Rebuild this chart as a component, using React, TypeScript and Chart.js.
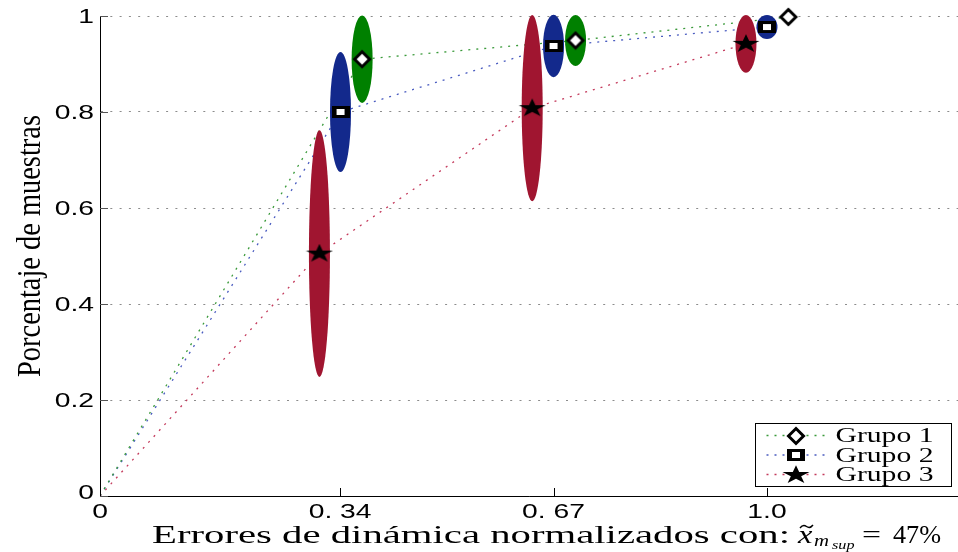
import React, { useEffect, useRef } from "react";
import { Chart, registerables } from "chart.js";

Chart.register(...registerables);

// Axis ticks
const xTickValues = [0, 0.36, 0.68, 1.0];
const xTickLabels = ["0", "0. 34", "0. 67", "1.0"];
const yTickValues = [0, 0.2, 0.4, 0.6, 0.8, 1];
const yTickLabels = ["0", "0.2", "0.4", "0.6", "0.8", "1"];
const xAxisMax = 1.2864;

const groupNames = ["Grupo 1", "Grupo 2", "Grupo 3"];

// Each series starts at the origin; spread is the half-height of the ellipse.
const grupo1X = [0, 0.393, 0.713, 1.032];
const grupo1Y = [0, 0.91, 0.949, 0.998];
const grupo1Spread = [0, 0.091, 0.053, 0];

const grupo2X = [0, 0.3606, 0.68, 1.0];
const grupo2Y = [0, 0.8, 0.9375, 0.977];
const grupo2Spread = [0, 0.125, 0.065, 0.025];

const grupo3X = [0, 0.329, 0.648, 0.9685];
const grupo3Y = [0, 0.505, 0.808, 0.942];
const grupo3Spread = [0, 0.257, 0.194, 0.06];

const lineColors = ["#3a9a3a", "#4a5cc0", "#c43a5c"];
const fillColors = ["#008000", "#13298c", "#a01530"];

const yTitle = "Porcentaje de muestras";
const xTitle = "Errores de dinámica normalizados con:";

const SANS = "'Liberation Sans', Arial, sans-serif";
const SERIF = "'Liberation Serif', 'Times New Roman', serif";

type Kind = "diamond" | "square" | "star";

function makeMarker(kind: Kind): HTMLCanvasElement {
  const c = document.createElement("canvas");
  const ctx = c.getContext("2d")!;
  if (kind === "diamond") {
    c.width = 22;
    c.height = 22;
    ctx.beginPath();
    ctx.moveTo(11, 3.5);
    ctx.lineTo(18.5, 11);
    ctx.lineTo(11, 18.5);
    ctx.lineTo(3.5, 11);
    ctx.closePath();
    ctx.fillStyle = "#fff";
    ctx.fill();
    ctx.lineWidth = 3;
    ctx.lineJoin = "miter";
    ctx.strokeStyle = "#000";
    ctx.stroke();
  } else if (kind === "square") {
    c.width = 18;
    c.height = 12;
    ctx.fillStyle = "#000";
    ctx.fillRect(0, 0, 18, 12);
    ctx.fillStyle = "#fff";
    ctx.fillRect(5, 3, 8, 6);
  } else {
    c.width = 28;
    c.height = 20;
    ctx.translate(14, 10);
    ctx.scale(1.45, 1);
    const R = 9.8;
    ctx.beginPath();
    for (let i = 0; i < 10; i++) {
      const a = -Math.PI / 2 + (i * Math.PI) / 5;
      const r = i % 2 ? R * 0.382 : R;
      const px = Math.cos(a) * r;
      const py = Math.sin(a) * r;
      if (i === 0) ctx.moveTo(px, py);
      else ctx.lineTo(px, py);
    }
    ctx.closePath();
    ctx.fillStyle = "#000";
    ctx.fill();
  }
  return c;
}

function drawStretched(
  ctx: CanvasRenderingContext2D,
  text: string,
  x: number,
  y: number,
  font: string,
  sx: number,
  align: "left" | "center" | "right"
) {
  ctx.save();
  ctx.font = font;
  ctx.textAlign = "left";
  ctx.textBaseline = "alphabetic";
  const w = ctx.measureText(text).width * sx;
  const x0 = align === "left" ? x : align === "center" ? x - w / 2 : x - w;
  ctx.translate(x0, y);
  ctx.scale(sx, 1);
  ctx.fillText(text, 0, 0);
  ctx.restore();
}

function fitScale(ctx: CanvasRenderingContext2D, text: string, font: string, width: number) {
  ctx.save();
  ctx.font = font;
  const w = ctx.measureText(text).width;
  ctx.restore();
  return width / w;
}

export default function App() {
  const canvasRef = useRef<HTMLCanvasElement | null>(null);

  useEffect(() => {
    const canvas = canvasRef.current;
    if (!canvas) return;

    const markers = [makeMarker("diamond"), makeMarker("square"), makeMarker("star")];
    const xs = [grupo1X, grupo2X, grupo3X];
    const ys = [grupo1Y, grupo2Y, grupo3Y];
    const spreads = [grupo1Spread, grupo2Spread, grupo3Spread];

    const lineDatasets = groupNames.map((name, i) => ({
      type: "scatter" as const,
      label: name,
      data: xs[i].map((x, j) => ({ x, y: ys[i][j] })),
      showLine: true,
      borderColor: lineColors[i],
      borderWidth: 1.3,
      borderDash: [2, 6],
      pointRadius: 0,
      tension: 0,
      fill: false,
      order: 2,
    }));

    const markerDatasets = groupNames.map((name, i) => ({
      type: "scatter" as const,
      label: name + " (media)",
      data: xs[i].slice(1).map((x, j) => ({ x, y: ys[i][j + 1] })),
      showLine: false,
      pointStyle: markers[i],
      pointRadius: 6,
      clip: false as const,
      order: 1,
    }));

    let ellipsesDrawn = false;

    const overlay = {
      id: "overlay",
      beforeDatasetsDraw() {
        ellipsesDrawn = false;
      },
      beforeDatasetDraw(chart: any, args: any) {
        if (ellipsesDrawn || args.index < groupNames.length) return;
        ellipsesDrawn = true;
        const { ctx } = chart;
        const xs2 = chart.scales.x;
        const ys2 = chart.scales.y;
        ctx.save();
        for (let i = groupNames.length - 1; i >= 0; i--) {
          for (let j = 1; j < xs[i].length; j++) {
            const s = spreads[i][j];
            if (s <= 0) continue;
            const cx = xs2.getPixelForValue(xs[i][j]);
            const cy = ys2.getPixelForValue(ys[i][j]);
            const ry = ys2.getPixelForValue(ys[i][j] - s) - cy;
            ctx.beginPath();
            ctx.ellipse(cx, cy, 10.5, ry, 0, 0, Math.PI * 2);
            ctx.fillStyle = fillColors[i];
            ctx.fill();
          }
        }
        ctx.restore();
      },
      afterDraw(chart: any) {
        const { ctx, chartArea } = chart;
        const xScale = chart.scales.x;
        const yScale = chart.scales.y;
        ctx.save();
        ctx.fillStyle = "#000";

        // inward tick marks
        ctx.lineWidth = 1;
        ctx.strokeStyle = "#555";
        yTickValues.forEach((v) => {
          const py = Math.round(yScale.getPixelForValue(v)) + 0.5;
          ctx.beginPath();
          ctx.moveTo(chartArea.left, py);
          ctx.lineTo(chartArea.left + 8, py);
          ctx.stroke();
        });
        ctx.strokeStyle = "#000";
        xTickValues.forEach((v) => {
          const px = Math.round(xScale.getPixelForValue(v)) + 0.5;
          ctx.beginPath();
          ctx.moveTo(px, chartArea.bottom);
          ctx.lineTo(px, chartArea.bottom - 8);
          ctx.stroke();
        });

        // tick labels
        const tickFont = "19.5px " + SANS;
        yTickValues.forEach((v, i) => {
          const py = yScale.getPixelForValue(v);
          drawStretched(ctx, yTickLabels[i], chartArea.left - 6, Math.min(py + 7, chartArea.bottom + 3), tickFont, 1.45, "right");
        });
        xTickValues.forEach((v, i) => {
          const px = xScale.getPixelForValue(v);
          drawStretched(ctx, xTickLabels[i], px, chartArea.bottom + 22, tickFont, 1.45, "center");
        });

        // y title (rotated)
        {
          ctx.font = "100px " + SERIF;
          const w100 = ctx.measureText(yTitle).width;
          const fs = (262 / w100) * 100;
          const sx = 22 / (0.66 * fs);
          ctx.save();
          ctx.translate(40, 246);
          ctx.scale(sx, 1);
          ctx.rotate(-Math.PI / 2);
          ctx.font = fs + "px " + SERIF;
          ctx.textAlign = "center";
          ctx.textBaseline = "alphabetic";
          ctx.fillText(yTitle, 0, 0);
          ctx.restore();
        }

        // x title with formula
        {
          const B = 543;
          const mainFont = "25px " + SERIF;
          const sx = fitScale(ctx, xTitle, mainFont, 638);
          drawStretched(ctx, xTitle, 152, B, mainFont, sx, "left");
          drawStretched(ctx, "x", 798, B, "italic 25px " + SERIF, 1.3, "left");
          ctx.lineWidth = 1.4;
          ctx.strokeStyle = "#000";
          ctx.beginPath();
          ctx.moveTo(800, B - 15);
          ctx.quadraticCurveTo(803, B - 19, 806.5, B - 16.5);
          ctx.quadraticCurveTo(810, B - 14, 813, B - 18);
          ctx.stroke();
          drawStretched(ctx, "m", 814, B + 3, "italic 16px " + SERIF, 1.3, "left");
          drawStretched(ctx, "sup", 832, B + 6, "italic 12px " + SERIF, 1.35, "left");
          drawStretched(ctx, "=", 862, B, "25px " + SERIF, 1.35, "left");
          const sxp = fitScale(ctx, "47%", mainFont, 48);
          drawStretched(ctx, "47%", 893, B, mainFont, sxp, "left");
        }

        // legend
        {
          const bx = 755.5;
          const by = 423.5;
          const bw = 196;
          const bh = 63;
          ctx.fillStyle = "#fff";
          ctx.fillRect(bx, by, bw, bh);
          ctx.strokeStyle = "#000";
          ctx.lineWidth = 1;
          ctx.strokeRect(bx, by, bw, bh);
          const legendFont = "20px " + SERIF;
          const lsx = fitScale(ctx, groupNames[0], legendFont, 98);
          groupNames.forEach((name, i) => {
            const ry = by + 12 + i * 19.5;
            ctx.save();
            ctx.strokeStyle = lineColors[i];
            ctx.lineWidth = 1.3;
            ctx.setLineDash([2, 6]);
            ctx.beginPath();
            ctx.moveTo(bx + 11, ry);
            ctx.lineTo(bx + 70, ry);
            ctx.stroke();
            ctx.restore();
            const m = markers[i];
            ctx.drawImage(m, Math.round(bx + 40 - m.width / 2), Math.round(ry - m.height / 2));
            ctx.fillStyle = "#000";
            drawStretched(ctx, name, bx + 80, ry + 6.5, legendFont, lsx, "left");
          });
        }
        ctx.restore();
      },
    };

    const chart = new Chart(canvas, {
      type: "scatter",
      data: { datasets: [...lineDatasets, ...markerDatasets] as any },
      options: {
        responsive: false,
        animation: false,
        devicePixelRatio: 1,
        events: [],
        layout: { autoPadding: false, padding: { top: 16, right: 0, bottom: 0, left: 0 } },
        plugins: {
          legend: { display: false },
          tooltip: { enabled: false },
          title: { display: false },
        },
        scales: {
          x: {
            type: "linear",
            min: 0,
            max: xAxisMax,
            afterBuildTicks: (s: any) => {
              s.ticks = xTickValues.map((v) => ({ value: v }));
            },
            afterFit: (s: any) => {
              s.height = 56;
            },
            ticks: { display: false },
            grid: { display: false },
            border: { display: true, color: "#000", width: 1 },
          },
          y: {
            type: "linear",
            min: 0,
            max: 1,
            afterBuildTicks: (s: any) => {
              s.ticks = yTickValues.map((v) => ({ value: v }));
            },
            afterFit: (s: any) => {
              s.width = 100;
            },
            ticks: { display: false },
            grid: { color: "#8c8c8c", lineWidth: 1, drawTicks: false },
            border: { display: true, color: "#000", width: 1, dash: [2, 7.3] },
          },
        },
      } as any,
      plugins: [overlay],
    });

    return () => chart.destroy();
  }, []);

  return (
    <div style={{ position: "fixed", left: 0, top: 0, width: 958, height: 552, background: "#fff" }}>
      <canvas ref={canvasRef} width={958} height={552} style={{ display: "block" }} />
    </div>
  );
}
